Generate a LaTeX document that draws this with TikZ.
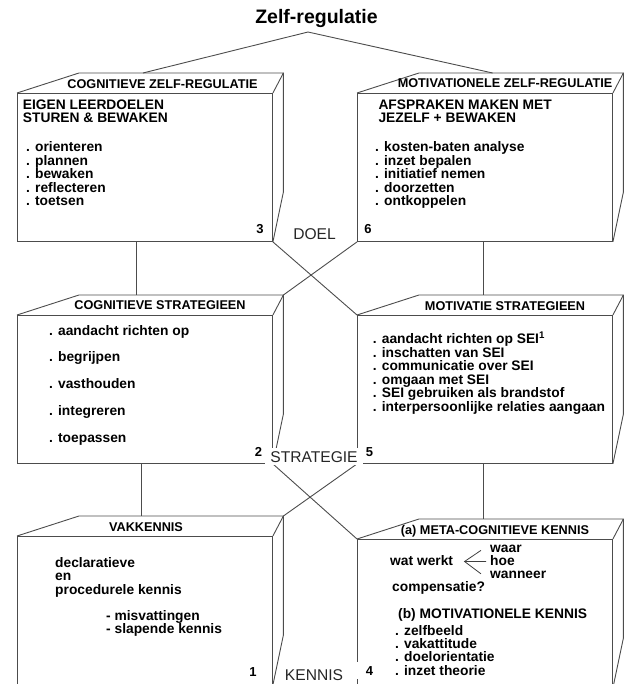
\documentclass[tikz,border=0pt]{standalone}
\usepackage{fontspec}
\setmainfont{Liberation Sans}
\usetikzlibrary{calc}
\tikzset{
  edge/.style={draw=black!70, line width=0.9pt},
  front/.style={edge, rectangle, minimum width=255pt, minimum height=148pt, inner sep=0pt, anchor=north west},
  lbl/.style={font=\bfseries\fontsize{12.7}{13}\selectfont, inner sep=0pt, anchor=base},
  txt/.style={font=\bfseries\fontsize{13.8}{13.8}\selectfont, inner sep=0pt, anchor=base west},
  num/.style={font=\bfseries\fontsize{13}{13}\selectfont, inner sep=0pt, anchor=base},
  level/.style={font=\fontsize{15.6}{16}\selectfont, text=black!85, inner sep=0pt, anchor=base},
  forkline/.style={draw=black!75, line width=0.8pt},
}
\newcommand\cubefaces[1]{%
  \draw[edge, line join=round] (#1.north west) -- ++(62,-20) coordinate (#1-tl) -- ($(#1.north east)+(10.5,-20)$) coordinate (#1-tr) -- (#1.north east);
  \draw[edge, line join=round] (#1-tr) -- ++(0,119) coordinate (#1-br) -- (#1.south east);
}
\begin{document}
\begin{tikzpicture}[x=1pt,y=-1pt]
\useasboundingbox (0,0) rectangle (625,684);
% front faces
\node[front] (c1) at (17,93) {};
\node[front] (c2) at (357,93) {};
\node[front] (c3) at (17,315) {};
\node[front] (c4) at (357,315) {};
\node[front] (c5) at (17,536) {};
\node[front] (c6) at (357,539) {};
\foreach \c in {c1,c2,c3,c4,c5,c6}{\cubefaces{\c}}
% title
\node[font=\bfseries\fontsize{19.5}{20}\selectfont, anchor=base, inner sep=0pt] (title) at (316.5,24) {Zelf-regulatie};
\coordinate (apex) at (308,32);
\draw[edge] ($(c1-tl)!0.313!(c1-tr)$) -- (apex) -- ($(c2-tl)!0.36!(c2-tr)$);
% vertical connectors
\draw[edge] ($(c1.south west)+(119,0)$) -- ($(c3-tl)+(57,0)$);
\draw[edge] ($(c2.south west)+(126,0)$) -- ($(c4-tl)+(64,0)$);
\draw[edge] ($(c3.south west)+(124,0)$) -- ($(c5-tl)+(62,0)$);
\draw[edge] ($(c4.south west)+(126,0)$) -- ($(c6-tl)+(64,0)$);
% cross connectors
\draw[edge] (c1.south east) -- (c4.north west);
\draw[edge] (c2.south west) -- (c3-tr);
\draw[edge] (c3.south east) -- (c6.north west);
\draw[edge] (c4.south west) -- (c5-tr);
% top labels
\node[lbl] (l1) at (162.5,88.5) {COGNITIEVE ZELF-REGULATIE};
\node[lbl] (l2) at (505,87.5) {MOTIVATIONELE ZELF-REGULATIE};
\node[lbl] (l3) at (160,309.5) {COGNITIEVE STRATEGIEEN};
\node[lbl] (l4) at (505,310) {MOTIVATIE STRATEGIEEN};
\node[lbl] (l5) at (146,531) {VAKKENNIS};
\node[lbl] (l6) at (495,534) {(a) META-COGNITIEVE KENNIS};
% box 1
\node[txt] (h1a) at (22.7,109.5) {EIGEN LEERDOELEN};
\node[txt] (h1b) at (22.7,122.7) {STUREN \& BEWAKEN};
\foreach \t [count=\i] in {orienteren,plannen,bewaken,reflecteren,toetsen}
  \node[txt] (b1-\i) at (26,{152+13.5*(\i-1)}) {. \t};
\node[num] (n3) at (260,234) {3};
% box 2
\node[txt] (h2a) at (378.3,109.5) {AFSPRAKEN MAKEN MET};
\node[txt] (h2b) at (378.3,122.7) {JEZELF + BEWAKEN};
\foreach \t [count=\i] in {kosten-baten analyse,inzet bepalen,initiatief nemen,doorzetten,ontkoppelen}
  \node[txt] (b2-\i) at (375,{152+13.5*(\i-1)}) {. \t};
\node[num] (n6) at (368,234) {6};
\node[level] (doel) at (314.5,240) {DOEL};
% box 3
\foreach \t [count=\i] in {aandacht richten op,begrijpen,vasthouden,integreren,toepassen}
  \node[txt] (b3-\i) at (49,{335+26.75*(\i-1)}) {. \t};
% box 4
\foreach \t [count=\i] in {aandacht richten op SEI\textsuperscript{1},inschatten van SEI,communicatie over SEI,omgaan met SEI,SEI gebruiken als brandstof,interpersoonlijke relaties aangaan}
  \node[txt] (b4-\i) at (372.7,{343.5+13.6*(\i-1)}) {. \t};
\node[level, fill=white, inner xsep=5pt, inner ysep=3pt] (strat) at (314,462) {STRATEGIE};
\node[num] (n2) at (258.5,456) {2};
\node[num] (n5) at (369.5,456) {5};
% box 5
\node[txt] (b5-1) at (55,567.3) {declaratieve};
\node[txt] (b5-2) at (55,580.8) {en};
\node[txt] (b5-3) at (55,594.3) {procedurele kennis};
\node[txt] (b5-4) at (106,620) {- misvattingen};
\node[txt] (b5-5) at (106,633.5) {- slapende kennis};
\node[num] (n1) at (253,676) {1};
\node[level] (kennis) at (314,680) {KENNIS};
% box 6
\node[txt] (ww) at (390,565) {wat werkt};
\node[txt] (waar) at (490,552) {waar};
\node[txt] (hoe) at (490,565) {hoe};
\node[txt] (wanneer) at (490,578.5) {wanneer};
\coordinate (fork) at (464.5,561.5);
\draw[forkline] ($(waar.west)+(-9,2)$) -- (fork) -- ($(wanneer.west)+(-9,-1)$);
\draw[forkline] (fork) -- ($(hoe.west)+(-4,1.5)$);
\node[txt] (comp) at (392,591.5) {compensatie?};
\node[txt] (mk) at (398,618) {(b) MOTIVATIONELE KENNIS};
\foreach \t [count=\i] in {zelfbeeld,vakattitude,doelorientatie,inzet theorie}
  \node[txt] (b6-\i) at (395,{635+13.4*(\i-1)}) {. \t};
\node[num, fill=white, inner xsep=9pt, inner ysep=4pt] (n4) at (369.5,675) {4};
\end{tikzpicture}
\end{document}
